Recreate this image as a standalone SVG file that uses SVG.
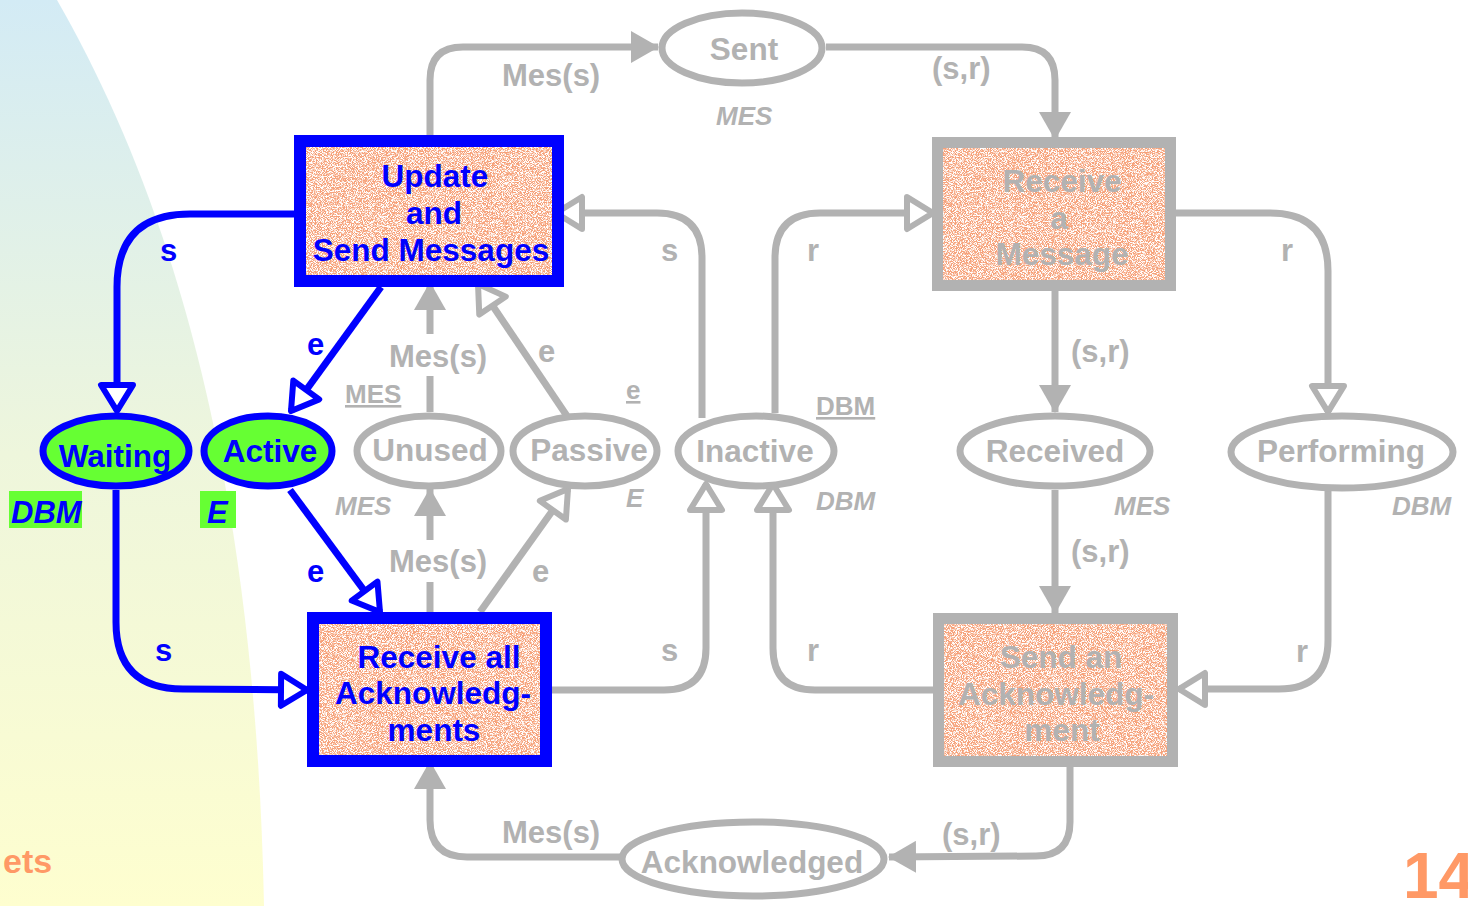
<svg xmlns="http://www.w3.org/2000/svg" width="1468" height="906" viewBox="0 0 1468 906">
  <defs>
    <linearGradient id="bgGrad" x1="0" y1="0" x2="0" y2="1">
      <stop offset="0" stop-color="#d3ebf5"/>
      <stop offset="0.5" stop-color="#eef6dc"/>
      <stop offset="1" stop-color="#fefecf"/>
    </linearGradient>
    <filter id="speckle" x="0" y="0" width="1" height="1" filterUnits="objectBoundingBox">
      <feTurbulence type="fractalNoise" baseFrequency="1.2" numOctaves="1" seed="7" result="n"/>
      <feColorMatrix in="n" type="matrix" values="0 0 0 0 1  0 0 0 0 1  0 0 0 0 1  6 0 0 0 -2.6" result="w"/>
      <feComposite in="w" in2="SourceGraphic" operator="in"/>
    </filter>
    <marker id="af" viewBox="0 0 28 32" refX="27" refY="16" markerWidth="28" markerHeight="32" orient="auto" markerUnits="userSpaceOnUse">
      <path d="M0,0 L28,16 L0,32 Z" fill="#b2b2b2"/>
    </marker>
    <marker id="ah" viewBox="-4 -4 34 40" refX="26" refY="16" markerWidth="34" markerHeight="40" orient="auto" markerUnits="userSpaceOnUse">
      <path d="M0,0 L26,16 L0,32 Z" fill="#ffffff" stroke="#b2b2b2" stroke-width="6" stroke-linejoin="round"/>
    </marker>
    <marker id="bh" viewBox="-4 -4 34 40" refX="26" refY="16" markerWidth="34" markerHeight="40" orient="auto" markerUnits="userSpaceOnUse">
      <path d="M0,0 L26,16 L0,32 Z" fill="#ffffff" stroke="#0000ff" stroke-width="6" stroke-linejoin="round"/>
    </marker>
  </defs>
  <style>
    text { font-family: "Liberation Sans", Arial, sans-serif; font-weight: bold; }
    .lbl { font-size: 31px; fill: #b2b2b2; }
    .lblb { font-size: 31px; fill: #0000ff; }
    .node { font-size: 31.5px; text-anchor: middle; }
    .gtx { fill: #b2b2b2; }
    .btx { fill: #0000ff; }
    .typ { font-size: 26px; font-style: italic; fill: #b2b2b2; }
    .typb { font-size: 31px; font-style: italic; fill: #0000ff; }
    .mark { font-size: 26px; fill: #b2b2b2; text-decoration: underline; }
    .cg { fill: none; stroke: #b2b2b2; stroke-width: 7; stroke-linejoin: round; }
    .cb { fill: none; stroke: #0000ff; stroke-width: 7; stroke-linejoin: round; }
    .pg { fill: #ffffff; stroke: #b2b2b2; stroke-width: 7; }
    .pb { fill: #66ff33; stroke: #0000ff; stroke-width: 7; }
    .tfill { fill: #f6a179; }
    .tspk { fill: #ffffff; filter: url(#speckle); }
    .tbb { fill: none; stroke: #0000ff; stroke-width: 12; }
    .tbg { fill: none; stroke: #b2b2b2; stroke-width: 11; }
  </style>

  <!-- backdrop -->
  <rect width="1468" height="906" fill="#ffffff"/>
  <path d="M0,0 L57,0 C160,180 255,450 264,906 L0,906 Z" fill="url(#bgGrad)"/>
  <text x="3" y="873" font-size="34" fill="#ff9966">ets</text>
  <text x="1403" y="898" font-size="64" fill="#ff9966">14</text>

  <!-- connectors -->
  <g id="connectors">
    <path class="cg" d="M430,135 L430,80 Q430,47 463,47 L658,47" marker-end="url(#af)"/>
    <path class="cg" d="M826,47 L1022,47 Q1055,47 1055,80 L1055,139" marker-end="url(#af)"/>
    <path class="cg" d="M1055,290 L1055,412" marker-end="url(#af)"/>
    <path class="cg" d="M1055,490 L1055,613" marker-end="url(#af)"/>
    <path class="cg" d="M1176,213 L1270,213 Q1328,213 1328,271 L1328,412" marker-end="url(#ah)"/>
    <path class="cg" d="M1328,491 L1328,640 Q1328,689 1279,689 L1179,689" marker-end="url(#ah)"/>
    <path class="cg" d="M1070,767 L1070,822 Q1070,856 1036,856 L889,857" marker-end="url(#af)"/>
    <path class="cg" d="M620,857 L467,857 Q430,857 430,820 L430,762" marker-end="url(#af)"/>
    <path class="cg" d="M933,690 L815,690 Q773,690 773,648 L773,484" marker-end="url(#ah)"/>
    <path class="cg" d="M552,690 L664,690 Q706,690 706,648 L706,484" marker-end="url(#ah)"/>
    <path class="cg" d="M702,418 L702,258 Q702,213 657,213 L556,213" marker-end="url(#ah)"/>
    <path class="cg" d="M775,413 L775,258 Q775,213 820,213 L933,213" marker-end="url(#ah)"/>
    <path class="cg" d="M430,412 L430,283" marker-end="url(#af)"/>
    <path class="cg" d="M430,612 L430,489" marker-end="url(#af)"/>
    <path class="cg" d="M567,416 L478,284" marker-end="url(#ah)"/>
    <path class="cg" d="M480,612 L568,489" marker-end="url(#ah)"/>
    <path class="cb" d="M294,214 L190,214 Q117,214 117,287 L117,411" marker-end="url(#bh)"/>
    <path class="cb" d="M381,287 L291,411" marker-end="url(#bh)"/>
    <path class="cb" d="M290,490 L380,612" marker-end="url(#bh)"/>
    <path class="cb" d="M116,490 L116,622 Q116,689 183,689 L307,690" marker-end="url(#bh)"/>

    <!-- arc inscriptions (the two on the Unused arcs sit on a white patch) -->
    <rect x="422" y="334" width="16" height="42" fill="#ffffff"/>
    <rect x="422" y="540" width="16" height="42" fill="#ffffff"/>
    <text class="lbl" x="502" y="86">Mes(s)</text>
    <text class="lbl" x="932" y="79">(s,r)</text>
    <text class="lbl" x="661" y="261">s</text>
    <text class="lbl" x="807" y="261">r</text>
    <text class="lbl" x="1281" y="261">r</text>
    <text class="lbl" x="1071" y="362">(s,r)</text>
    <text class="lbl" x="389" y="367">Mes(s)</text>
    <text class="lbl" x="538" y="362">e</text>
    <text class="lbl" x="389" y="572">Mes(s)</text>
    <text class="lbl" x="532" y="582">e</text>
    <text class="lbl" x="1071" y="562">(s,r)</text>
    <text class="lbl" x="661" y="661">s</text>
    <text class="lbl" x="807" y="661">r</text>
    <text class="lbl" x="1296" y="662">r</text>
    <text class="lbl" x="502" y="843">Mes(s)</text>
    <text class="lbl" x="942" y="845">(s,r)</text>
    <text class="lblb" x="160" y="261">s</text>
    <text class="lblb" x="307" y="355">e</text>
    <text class="lblb" x="307" y="582">e</text>
    <text class="lblb" x="155" y="661">s</text>
  </g>

  <!-- transitions -->
  <g id="t-update-send">
    <rect class="tfill" x="300" y="141" width="258" height="140"/>
    <rect class="tspk" x="300" y="141" width="258" height="140"/>
    <rect class="tbb" x="300" y="141" width="258" height="140"/>
    <text class="node btx" x="435" y="187">Update</text>
    <text class="node btx" x="434" y="224">and</text>
    <text class="node btx" x="431" y="261">Send Messages</text>
  </g>
  <g id="t-receive-all">
    <rect class="tfill" x="313" y="618" width="233" height="143"/>
    <rect class="tspk" x="313" y="618" width="233" height="143"/>
    <rect class="tbb" x="313" y="618" width="233" height="143"/>
    <text class="node btx" x="439" y="668">Receive all</text>
    <text class="node btx" x="433" y="704">Acknowledg-</text>
    <text class="node btx" x="434" y="741">ments</text>
  </g>
  <g id="t-receive-message">
    <rect class="tfill" x="937.5" y="142.5" width="233" height="143"/>
    <rect class="tspk" x="937.5" y="142.5" width="233" height="143"/>
    <rect class="tbg" x="937.5" y="142.5" width="233" height="143"/>
    <text class="node gtx" x="1062" y="192">Receive</text>
    <text class="node gtx" x="1059" y="229">a</text>
    <text class="node gtx" x="1062" y="265">Message</text>
  </g>
  <g id="t-send-ack">
    <rect class="tfill" x="938.5" y="618.5" width="234" height="143"/>
    <rect class="tspk" x="938.5" y="618.5" width="234" height="143"/>
    <rect class="tbg" x="938.5" y="618.5" width="234" height="143"/>
    <text class="node gtx" x="1061" y="668">Send an</text>
    <text class="node gtx" x="1056" y="705">Acknowledg-</text>
    <text class="node gtx" x="1062" y="741">ment</text>
  </g>

  <!-- places -->
  <g id="p-sent">
    <ellipse class="pg" cx="742" cy="48" rx="80" ry="35"/>
    <text class="node gtx" x="744" y="60">Sent</text>
    <text class="typ" x="716" y="125">MES</text>
  </g>
  <g id="p-waiting">
    <ellipse class="pb" cx="116" cy="451" rx="73" ry="35"/>
    <text class="node btx" x="115" y="467">Waiting</text>
    <rect x="9" y="491" width="73" height="37" fill="#66ff33"/>
    <text class="typb" x="11" y="523">DBM</text>
  </g>
  <g id="p-active">
    <ellipse class="pb" cx="268" cy="451" rx="64" ry="35"/>
    <text class="node btx" x="270" y="462">Active</text>
    <rect x="200" y="491" width="36" height="37" fill="#66ff33"/>
    <text class="typb" x="207" y="523">E</text>
  </g>
  <g id="p-unused">
    <ellipse class="pg" cx="429" cy="451" rx="72" ry="35"/>
    <text class="node gtx" x="430" y="461">Unused</text>
    <text class="mark" x="345" y="403">MES</text>
    <text class="typ" x="335" y="515">MES</text>
  </g>
  <g id="p-passive">
    <ellipse class="pg" cx="585" cy="451" rx="72" ry="35"/>
    <text class="node gtx" x="589" y="461">Passive</text>
    <text class="mark" x="626" y="399">e</text>
    <text class="typ" x="626" y="507">E</text>
  </g>
  <g id="p-inactive">
    <ellipse class="pg" cx="756" cy="451" rx="78" ry="35"/>
    <text class="node gtx" x="755" y="462">Inactive</text>
    <text class="mark" x="816" y="415">DBM</text>
    <text class="typ" x="816" y="510">DBM</text>
  </g>
  <g id="p-received">
    <ellipse class="pg" cx="1055" cy="451" rx="95" ry="35"/>
    <text class="node gtx" x="1055" y="462">Received</text>
    <text class="typ" x="1114" y="515">MES</text>
  </g>
  <g id="p-performing">
    <ellipse class="pg" cx="1342" cy="452" rx="111" ry="36"/>
    <text class="node gtx" x="1341" y="462">Performing</text>
    <text class="typ" x="1392" y="515">DBM</text>
  </g>
  <g id="p-acknowledged">
    <ellipse class="pg" cx="753" cy="859" rx="131" ry="37"/>
    <text class="node gtx" x="752" y="873">Acknowledged</text>
  </g>
</svg>
